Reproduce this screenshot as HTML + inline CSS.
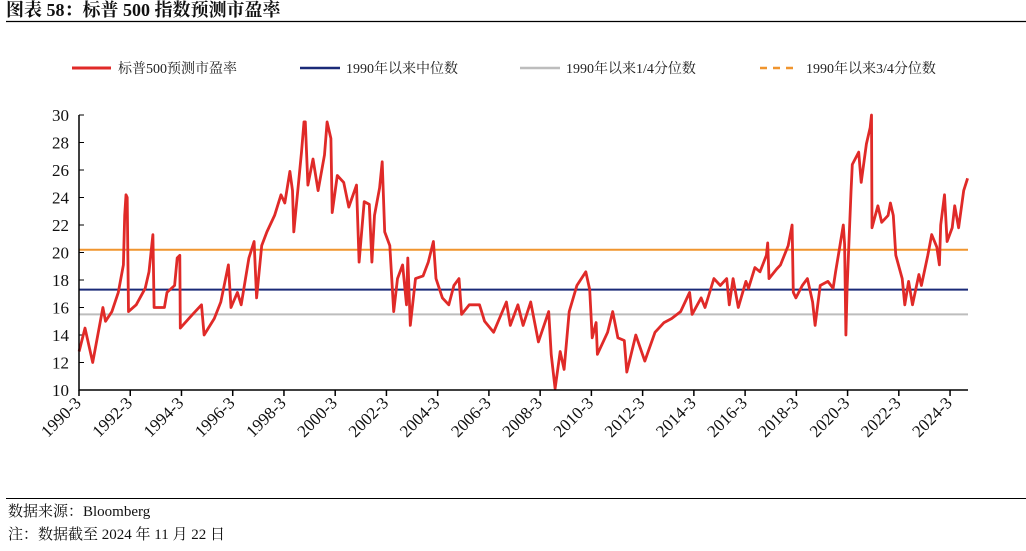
<!DOCTYPE html>
<html><head><meta charset="utf-8"><style>
body{margin:0;background:#fff;width:1026px;height:546px;overflow:hidden;font-family:"Liberation Serif","Noto Serif CJK SC","Noto Sans CJK SC",serif;}
</style></head><body>
<svg width="1026" height="546" xmlns="http://www.w3.org/2000/svg">
<text x="6" y="16" font-size="18" font-weight="bold" fill="#111" font-family="Liberation Serif, Noto Serif CJK SC, serif">图表 58：标普 500 指数预测市盈率</text>
<line x1="6" y1="21.5" x2="1026" y2="21.5" stroke="#000" stroke-width="1.2"/>
<g id="legend" font-size="14" fill="#222">
<line x1="72" y1="68" x2="111" y2="68" stroke="#e02a28" stroke-width="3"/>
<text x="118" y="73">标普500预测市盈率</text>
<line x1="300" y1="68" x2="340" y2="68" stroke="#1a2a78" stroke-width="2.5"/>
<text x="346" y="73">1990年以来中位数</text>
<line x1="520" y1="68" x2="560" y2="68" stroke="#bdbdbd" stroke-width="2.5"/>
<text x="566" y="73">1990年以来1/4分位数</text>
<line x1="760" y1="68" x2="796" y2="68" stroke="#f0952e" stroke-width="2.5" stroke-dasharray="7,6"/>
<text x="806" y="73">1990年以来3/4分位数</text>
</g>
<g id="plot"></g>
<line x1="6" y1="498.5" x2="1026" y2="498.5" stroke="#000" stroke-width="1"/>
<text x="8" y="516" font-size="15" fill="#111">数据来源：Bloomberg</text>
<text x="8" y="539" font-size="15" fill="#111">注：数据截至 2024 年 11 月 22 日</text>
</svg>
<script>
const yTicks=[10,12,14,16,18,20,22,24,26,28,30];
const xTickLabels=["1990-3","1992-3","1994-3","1996-3","1998-3","2000-3","2002-3","2004-3","2006-3","2008-3","2010-3","2012-3","2014-3","2016-3","2018-3","2020-3","2022-3","2024-3"];
const xTickYears=[1990.167,1992.167,1994.167,1996.167,1998.167,2000.167,2002.167,2004.167,2006.167,2008.167,2010.167,2012.167,2014.167,2016.167,2018.167,2020.167,2022.167,2024.167];
const refMedian=17.3, refQ1=15.5, refQ3=20.2;
const dates=[1990.17,1990.4,1990.7,1990.9,1991.1,1991.2,1991.45,1991.7,1991.9,1991.95,1992.0,1992.05,1992.1,1992.4,1992.75,1992.9,1993.05,1993.1,1993.5,1993.6,1993.9,1994.0,1994.1,1994.12,1994.55,1994.95,1995.05,1995.45,1995.7,1996.0,1996.1,1996.35,1996.5,1996.8,1997.0,1997.1,1997.3,1997.5,1997.8,1998.05,1998.2,1998.4,1998.5,1998.55,1998.85,1998.95,1999.0,1999.1,1999.3,1999.5,1999.75,1999.85,2000.0,2000.05,2000.25,2000.5,2000.7,2001.0,2001.1,2001.3,2001.5,2001.6,2001.7,2001.9,2002.0,2002.1,2002.3,2002.45,2002.6,2002.8,2002.95,2003.0,2003.1,2003.3,2003.6,2003.8,2004.0,2004.1,2004.35,2004.6,2004.8,2005.0,2005.1,2005.4,2005.8,2006.0,2006.35,2006.85,2007.0,2007.3,2007.5,2007.8,2008.1,2008.5,2008.6,2008.75,2008.95,2009.1,2009.3,2009.6,2009.95,2010.1,2010.2,2010.35,2010.4,2010.8,2011.0,2011.2,2011.45,2011.55,2011.9,2012.25,2012.65,2013.0,2013.3,2013.65,2014.0,2014.1,2014.45,2014.6,2014.95,2015.2,2015.45,2015.55,2015.7,2015.9,2016.2,2016.3,2016.55,2016.75,2017.0,2017.05,2017.1,2017.4,2017.55,2017.85,2018.0,2018.05,2018.15,2018.4,2018.6,2018.8,2018.9,2019.1,2019.4,2019.6,2019.7,2019.85,2020.0,2020.05,2020.1,2020.15,2020.3,2020.35,2020.6,2020.7,2020.9,2021.05,2021.1,2021.12,2021.35,2021.5,2021.75,2021.84,2021.95,2022.05,2022.3,2022.4,2022.55,2022.7,2022.95,2023.05,2023.3,2023.45,2023.65,2023.75,2023.8,2023.95,2024.05,2024.25,2024.35,2024.5,2024.7,2024.85];
const peValues=[12.8,14.5,12.0,14.0,16.0,15.0,15.7,17.1,19.1,22.7,24.2,24.0,15.7,16.2,17.4,18.6,21.3,16.0,16.0,17.1,17.6,19.6,19.8,14.5,15.4,16.2,14.0,15.2,16.4,19.1,16.0,17.1,16.2,19.6,20.8,16.7,20.5,21.5,22.7,24.2,23.6,25.9,24.5,21.5,27.3,29.5,29.5,24.9,26.8,24.5,27.1,29.5,28.3,22.9,25.6,25.1,23.3,24.9,19.3,23.7,23.5,19.3,22.7,24.7,26.6,21.5,20.5,15.7,18.1,19.1,16.2,19.6,14.7,18.1,18.3,19.3,20.8,18.1,16.7,16.2,17.6,18.1,15.5,16.2,16.2,15.0,14.2,16.4,14.7,16.2,14.7,16.4,13.5,15.7,12.6,10.1,12.8,11.5,15.7,17.6,18.6,17.3,13.8,14.9,12.6,14.2,15.7,13.8,13.6,11.3,14.0,12.1,14.2,14.9,15.2,15.7,17.1,15.5,16.7,16.0,18.1,17.6,18.1,16.2,18.1,16.0,17.9,17.4,18.9,18.6,19.8,20.7,18.1,18.8,19.1,20.5,22.0,17.1,16.7,17.6,18.1,16.4,14.7,17.6,17.9,17.4,18.6,20.3,22.0,20.6,14.0,17.4,24.4,26.4,27.3,25.1,27.9,29.1,30.0,21.8,23.4,22.2,22.7,23.6,22.7,19.8,18.1,16.2,17.9,16.2,18.4,17.6,19.8,21.3,20.4,19.1,22.0,24.2,20.8,21.8,23.4,21.8,24.5,25.4];
const L=79,R=968,T=115,B=390,NS="http://www.w3.org/2000/svg";
const xS=t=>L+(t-1990.167)*(R-L)/(2024.85-1990.167)*0.9995;
const yS=v=>B-(v-10)*(B-T)/20;
const g=document.getElementById('plot');
function mk(tag,attrs){const e=document.createElementNS(NS,tag);for(const k in attrs)e.setAttribute(k,attrs[k]);g.appendChild(e);return e;}
yTicks.forEach(v=>{
  const t=mk('line',{x1:L,x2:L+5,y1:yS(v),y2:yS(v),stroke:'#000','stroke-width':1});
  
  
  const lb=mk('text',{x:L-10,y:yS(v)+6,'text-anchor':'end','font-size':17,fill:'#111'});
  lb.textContent=v;
  
  
});
xTickYears.forEach((yr,i)=>{
  const x=xS(yr);
  const t=mk('line',{x1:x,x2:x,y1:B,y2:B+6,stroke:'#000','stroke-width':1.5});
  
  
  const lb=mk('text',{x:x+3,y:B+14,'text-anchor':'end','font-size':17,fill:'#111',transform:`rotate(-45 ${x+3} ${B+14})`});
  lb.textContent=xTickLabels[i];
  
  
});
const refs=[[refQ1,'#bdbdbd','q1-line'],[refMedian,'#1a2a78','median-line'],[refQ3,'#f0952e','q3-line']];
refs.forEach(r=>{
  const l=mk('line',{x1:L,x2:R,y1:yS(r[0]),y2:yS(r[0]),stroke:r[1],'stroke-width':2});
  
  
});
const p=mk('polyline',{points:dates.map((d,i)=>xS(d).toFixed(1)+','+yS(peValues[i]).toFixed(1)).join(' '),fill:'none',stroke:'#e02a28','stroke-width':2.8,'stroke-linejoin':'round'});


const ax=mk('path',{d:`M${L},${T} V${B} H${R}`,fill:'none',stroke:'#000','stroke-width':1.5});


</script>
</body></html>
